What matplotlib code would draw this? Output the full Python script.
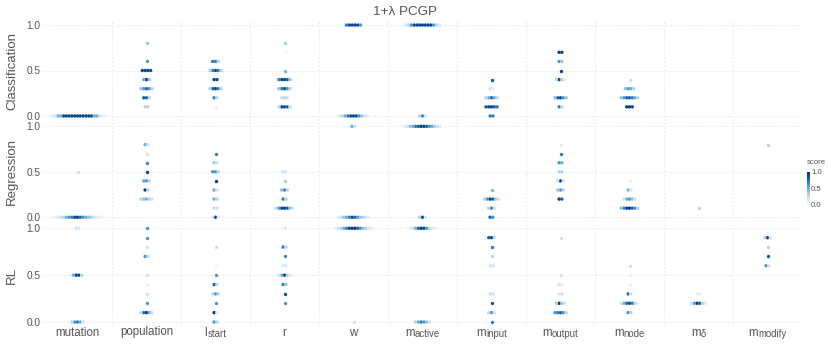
import numpy as np
import matplotlib
matplotlib.use('Agg')
import matplotlib.pyplot as plt
from matplotlib import transforms

plt.rcParams['font.family'] = ['Liberation Sans', 'DejaVu Sans']

# categorias (eixo x): nome e subscrito
categorias = ['mutation', 'population', 'l_start', 'r', 'w', 'm_active',
              'm_input', 'm_output', 'm_node', 'm_delta', 'm_modify']
rotulos = ['mutation', 'population', 'l', 'r', 'w', 'm', 'm', 'm', 'm', 'm', 'm']
subscritos = ['', '', 'start', '', '', 'active', 'input', 'output', 'node', 'δ', 'modify']

# cada categoria: lista de (valor, [scores dos pontos nesse valor])
classificacao = {
    'mutation': [(0.0, [0.9] * 11 + [0.5] * 4 + [0.2, 0.2, 0.1, 0.1, 0.05, 0.05])],
    'population': [(0.8, [0.4]), (0.6, [0.6]), (0.5, [0.9, 0.9, 0.9, 0.85]),
                   (0.4, [0.95, 0.5, 0.4]), (0.3, [0.8, 0.6, 0.6, 0.4, 0.3]),
                   (0.2, [0.8, 0.8, 0.3]), (0.1, [0.3, 0.3])],
    'l_start': [(0.6, [0.7, 0.7, 0.3]), (0.5, [0.9, 0.7, 0.7, 0.3, 0.3]),
                (0.4, [0.9, 0.9]), (0.3, [0.9, 0.8, 0.7, 0.3, 0.3]),
                (0.2, [0.7, 0.3]), (0.1, [0.1])],
    'r': [(0.8, [0.35]), (0.7, [0.05]), (0.5, [0.45]),
          (0.4, [0.9, 0.9, 0.8, 0.7, 0.4]), (0.3, [0.9, 0.7, 0.6, 0.4, 0.3]),
          (0.2, [0.3, 0.2, 0.2]), (0.1, [0.9, 0.9, 0.8, 0.3, 0.2])],
    'w': [(1.0, [0.9, 0.9, 0.9, 0.9, 0.7, 0.6]),
          (0.0, [0.9, 0.9, 0.9, 0.7, 0.6, 0.5, 0.4, 0.3, 0.2, 0.15, 0.1])],
    'm_active': [(1.0, [0.9] * 7 + [0.6, 0.6, 0.3, 0.3, 0.15, 0.15]),
                 (0.0, [0.7, 0.3, 0.2])],
    'm_input': [(0.4, [0.85]), (0.3, [0.2, 0.1]), (0.2, [0.8, 0.5, 0.5, 0.3, 0.3]),
                (0.1, [0.9, 0.9, 0.8, 0.8, 0.7]), (0.0, [0.7, 0.7])],
    'm_output': [(0.7, [0.95, 0.9]), (0.6, [0.6, 0.4]), (0.5, [0.95]),
                 (0.4, [0.9, 0.3, 0.3, 0.1]), (0.2, [0.9, 0.8, 0.6, 0.4, 0.4]),
                 (0.1, [0.7, 0.3])],
    'm_node': [(0.4, [0.25]), (0.3, [0.6, 0.5, 0.4, 0.3]),
               (0.2, [0.8, 0.8, 0.7, 0.6, 0.5, 0.4, 0.3]), (0.1, [0.95, 0.95, 0.9])],
}

regressao = {
    'mutation': [(0.5, [0.2]),
                 (0.0, [0.95, 0.9, 0.8, 0.7, 0.6, 0.6, 0.5, 0.5, 0.4, 0.3, 0.3, 0.2,
                        0.2, 0.15, 0.1, 0.1, 0.1, 0.05, 0.05])],
    'population': [(0.8, [0.5, 0.2]), (0.7, [0.2]), (0.6, [0.65]), (0.5, [0.9]),
                   (0.4, [0.6, 0.5, 0.3]), (0.3, [0.95, 0.3]),
                   (0.2, [0.5, 0.4, 0.3, 0.3, 0.2])],
    'l_start': [(0.7, [0.7]), (0.6, [0.4, 0.2]), (0.5, [0.6, 0.6, 0.3]),
                (0.4, [0.95]), (0.3, [0.5, 0.2]), (0.2, [0.5, 0.3]),
                (0.1, [0.2, 0.2]), (0.0, [0.95, 0.2, 0.1])],
    'r': [(0.5, [0.2, 0.15]), (0.4, [0.35]), (0.3, [0.7, 0.4, 0.3]), (0.2, [0.7, 0.3]),
          (0.1, [0.9, 0.9, 0.8, 0.6, 0.4, 0.3, 0.2])],
    'w': [(1.0, [0.5, 0.2]),
          (0.0, [0.9, 0.8, 0.7, 0.6, 0.5, 0.4, 0.4, 0.3, 0.2, 0.2, 0.1, 0.1])],
    'm_active': [(1.0, [0.95, 0.9, 0.8, 0.8, 0.7, 0.6, 0.5, 0.5, 0.4, 0.3, 0.2, 0.2,
                        0.1, 0.1]),
                 (0.0, [0.95, 0.3, 0.2])],
    'm_input': [(0.3, [0.45]), (0.2, [0.95, 0.8, 0.6, 0.4, 0.3, 0.2]),
                (0.1, [0.7, 0.3, 0.2]), (0.0, [0.8, 0.6])],
    'm_output': [(0.8, [0.1]), (0.7, [0.7]), (0.6, [0.6, 0.5]), (0.5, [0.3, 0.3]),
                 (0.4, [0.95, 0.2, 0.2]), (0.3, [0.6, 0.4, 0.3]), (0.2, [0.9, 0.8])],
    'm_node': [(0.4, [0.1]), (0.3, [0.45, 0.2]), (0.2, [0.6, 0.5, 0.4, 0.2, 0.2]),
               (0.1, [0.95, 0.9, 0.8, 0.7, 0.6, 0.4, 0.3])],
    'm_delta': [(0.1, [0.3])],
    'm_modify': [(0.8, [0.3])],
}

rl = {
    'mutation': [(1.0, [0.2, 0.15]), (0.5, [0.95, 0.9, 0.5, 0.3]),
                 (0.0, [0.7, 0.6, 0.5, 0.3, 0.2])],
    'population': [(1.0, [0.6]), (0.9, [0.6]), (0.8, [0.2]), (0.7, [0.6, 0.3]),
                   (0.5, [0.2]), (0.4, [0.1]), (0.3, [0.2]), (0.2, [0.6]),
                   (0.1, [0.95, 0.8, 0.5, 0.3, 0.2])],
    'l_start': [(0.8, [0.25]), (0.6, [0.05]), (0.5, [0.6]), (0.4, [0.8, 0.3]),
                (0.3, [0.6, 0.3, 0.3]), (0.2, [0.6]), (0.1, [0.95, 0.1]),
                (0.0, [0.6, 0.3])],
    'r': [(1.0, [0.15]), (0.8, [0.7, 0.3]), (0.7, [0.65]), (0.6, [0.15, 0.15]),
          (0.5, [0.95, 0.5, 0.3, 0.2, 0.15]), (0.4, [0.7, 0.4]), (0.3, [0.85]),
          (0.2, [0.6])],
    'w': [(1.0, [0.95, 0.95, 0.9, 0.8, 0.7, 0.6, 0.5, 0.4, 0.3, 0.3, 0.2, 0.15, 0.1, 0.1]),
          (0.0, [0.2])],
    'm_active': [(1.0, [0.95, 0.9, 0.8, 0.6, 0.5, 0.3, 0.2, 0.15, 0.1, 0.1]),
                 (0.0, [0.7, 0.6, 0.5, 0.4, 0.3, 0.2])],
    'm_input': [(0.9, [0.95, 0.8, 0.3]), (0.8, [0.7]), (0.7, [0.3]), (0.6, [0.2, 0.2]),
                (0.3, [0.2, 0.2]), (0.2, [0.85]), (0.1, [0.6, 0.3, 0.2]), (0.0, [0.7])],
    'm_output': [(0.9, [0.2]), (0.5, [0.2]), (0.4, [0.2, 0.1]), (0.3, [0.2, 0.2]),
                 (0.2, [0.95, 0.4, 0.3, 0.2]), (0.1, [0.8, 0.7, 0.6, 0.6, 0.3])],
    'm_node': [(0.6, [0.2]), (0.5, [0.1]), (0.4, [0.1]), (0.3, [0.75, 0.2]),
               (0.2, [0.9, 0.8, 0.7, 0.5, 0.3, 0.2, 0.1]), (0.1, [0.6, 0.3])],
    'm_delta': [(0.3, [0.1, 0.1]), (0.2, [0.95, 0.8, 0.6, 0.3, 0.2, 0.1])],
    'm_modify': [(0.9, [0.95, 0.3, 0.2]), (0.8, [0.3]), (0.7, [0.85]), (0.6, [0.6, 0.2])],
}

linhas = [('Classification', classificacao), ('Regression', regressao), ('RL', rl)]

W, H = 830, 346
fig = plt.figure(figsize=(W / 100, H / 100), dpi=100)
cmap = plt.get_cmap('Blues')
cor_texto = '#555555'
cor_grade = '#e8ecf3'

# posicoes em pixels (topo, base) de cada linha
caixas = [(20.5, 120.5), (121.8, 221.8), (223.6, 326.7)]
esq, dir_ = 43, 802
passo = 2.8 / ((dir_ - esq) / len(categorias))  # espacamento entre pontos

eixos = []
for k, (nome, dados) in enumerate(linhas):
    topo, base = caixas[k]
    ax = fig.add_axes([esq / W, 1 - base / H, (dir_ - esq) / W, (base - topo) / H])
    eixos.append(ax)
    for i, cat in enumerate(categorias):
        for valor, scores in dados.get(cat, []):
            s = np.sort(np.array(scores))[::-1]
            n = len(s)
            pos = np.arange(n) - (n - 1) / 2
            ordem = np.argsort(np.abs(pos), kind='stable')
            xs = i + pos[ordem] * passo
            ax.scatter(xs, np.full(n, valor), c=s, cmap=cmap, vmin=0, vmax=1,
                       s=6, linewidths=0, zorder=3, clip_on=False)
    ax.set_xlim(-0.5, len(categorias) - 0.5)
    ax.set_ylim(-0.05, 1.05)
    ax.set_yticks([0, 0.5, 1.0])
    ax.set_yticklabels(['0.0', '0.5', '1.0'])
    for y in [0, 0.5, 1.0]:
        ax.axhline(y, color=cor_grade, lw=0.8, ls=(0, (2, 1.5)), zorder=1)
    for xv in np.arange(0.5, len(categorias) - 1, 1):
        ax.axvline(xv, color=cor_grade, lw=0.8, ls=(0, (2, 1.5)), zorder=1)
    for sp in ax.spines.values():
        sp.set_visible(False)
    ax.tick_params(length=0, colors=cor_texto, pad=2)
    ax.tick_params(axis='y', labelsize=7.3)
    ax.set_ylabel(nome, fontsize=9.5, color=cor_texto)
    ax.yaxis.set_label_coords(-0.033, 0.5)
    ax.set_xticks(range(len(categorias)))
    ax.set_xticklabels([])

# rotulos do eixo x com subscrito (texto normal + texto menor mais abaixo)
ax = eixos[-1]
trans = transforms.blended_transform_factory(ax.transData, fig.transFigure)
y_base = 1 - 335.5 / H
pares = []
for i in range(len(categorias)):
    t1 = fig.text(i, y_base, rotulos[i], transform=trans, ha='left', va='baseline',
                  fontsize=8.3, color=cor_texto)
    t2 = fig.text(i, y_base, subscritos[i], transform=trans, ha='left', va='baseline',
                  fontsize=6.9, color=cor_texto)
    pares.append((t1, t2))
fig.canvas.draw()
r = fig.canvas.get_renderer()
for t1, t2 in pares:
    w1 = t1.get_window_extent(r).width
    w2 = t2.get_window_extent(r).width if t2.get_text() else 0
    tot = w1 + w2
    t1.set_transform(transforms.offset_copy(trans, fig=fig, x=-tot / 2, y=0, units='dots'))
    t2.set_transform(transforms.offset_copy(trans, fig=fig, x=-tot / 2 + w1, y=-1.8,
                                            units='dots'))

fig.text(405 / W, 1 - 12 / H, '1+λ PCGP', ha='center', va='center',
         fontsize=9.7, color=cor_texto)

# barra de cores
cax = fig.add_axes([807 / W, 1 - 205 / H, 2.5 / W, 33 / H])
sm = plt.cm.ScalarMappable(cmap=cmap, norm=plt.Normalize(0, 1))
cb = fig.colorbar(sm, cax=cax, ticks=[0, 0.5, 1.0])
cb.outline.set_visible(False)
cb.ax.set_yticklabels(['0.0', '0.5', '1.0'])
cb.ax.tick_params(length=0, labelsize=5.6, colors=cor_texto, pad=1)
fig.text(807 / W, 1 - 163 / H, 'score', ha='left', va='center', fontsize=5.6,
         color=cor_texto)

fig.savefig('out.png', dpi=100)
